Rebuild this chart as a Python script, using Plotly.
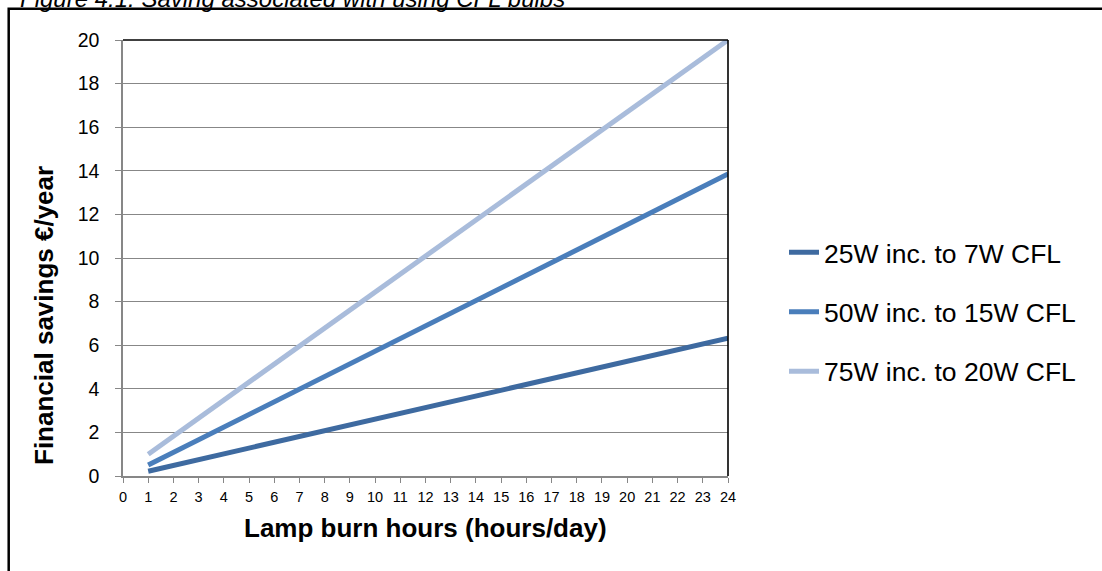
import plotly.graph_objects as go

hours = [1, 24]
series_names = ["25W inc. to 7W CFL", "50W inc. to 15W CFL", "75W inc. to 20W CFL"]
savings_25w = [0.22, 6.32]
savings_50w = [0.5, 13.85]
savings_75w = [1.0, 20.0]
colors = ["#3E6AA0", "#4A7EBB", "#A9BCDB"]
x_ticks = list(range(0, 25))
y_ticks = list(range(0, 21, 2))

W, H = 1102, 571
L, R, T, B = 123, 728, 40, 476  # plot area pixel edges

def px_x(p):
    return (p - L) / (R - L)

def px_y(p):
    return (B - p) / (B - T)

fig = go.Figure()
for i, (name, vals) in enumerate(zip(series_names, [savings_25w, savings_50w, savings_75w])):
    fig.add_trace(go.Scatter(
        x=hours, y=vals, mode="lines", name=name,
        line=dict(color=colors[i], width=5),
        legendgroup=f"g{i}",
    ))

font_family = "Liberation Sans, Arial, sans-serif"

fig.update_layout(
    width=W, height=H,
    margin=dict(l=L, r=W - R, t=T, b=H - B, autoexpand=False),
    paper_bgcolor="white", plot_bgcolor="white",
    font=dict(family=font_family, color="black"),
    showlegend=True,
    legend=dict(
        x=px_x(784), xanchor="left",
        y=px_y(312), yanchor="middle",
        font=dict(size=26.5, family=font_family, color="black"),
        tracegroupgap=22,
        bgcolor="rgba(0,0,0,0)",
    ),
    xaxis=dict(
        range=[0, 24], tickmode="array", tickvals=x_ticks,
        ticks="outside", ticklen=5, tickcolor="#878787", tickwidth=1,
        showgrid=False, zeroline=False,
        showline=True, linecolor="#878787", linewidth=1.5,
        tickfont=dict(size=14.5, family=font_family, color="black"),
        ticklabelstandoff=2,
        fixedrange=True,
    ),
    yaxis=dict(
        range=[0, 20], tickmode="array", tickvals=y_ticks,
        ticks="outside", ticklen=6, tickcolor="#878787", tickwidth=1,
        showgrid=True, gridcolor="#878787", gridwidth=1.3,
        zeroline=False,
        showline=True, linecolor="#878787", linewidth=1.5,
        tickfont=dict(size=19.5, family=font_family, color="black"),
        ticklabelstandoff=12,
        fixedrange=True,
    ),
)

# top and right borders of plot area (black)
fig.add_shape(type="line", xref="paper", yref="paper", x0=0, x1=1, y0=1, y1=1,
              line=dict(color="black", width=1.6), layer="above")
fig.add_shape(type="line", xref="paper", yref="paper", x0=1, x1=1, y0=0, y1=1,
              line=dict(color="black", width=1.6), layer="above")

# outer frame (extends beyond canvas right and bottom)
fig.add_shape(type="rect", xref="paper", yref="paper",
              x0=px_x(8.7), x1=px_x(1200), y0=px_y(8.7), y1=px_y(700),
              line=dict(color="black", width=2.5), fillcolor="rgba(0,0,0,0)")

# axis titles
fig.add_annotation(text="<b>Lamp burn hours (hours/day)</b>", xref="paper", yref="paper",
                   x=px_x(425), y=px_y(528), xanchor="center", yanchor="middle",
                   showarrow=False, font=dict(size=26, family=font_family, color="black"))
fig.add_annotation(text="<b>Financial savings €/year</b>", xref="paper", yref="paper",
                   x=px_x(44), y=px_y(316), xanchor="center", yanchor="middle", textangle=-90,
                   showarrow=False, font=dict(size=26, family=font_family, color="black"))

# figure caption (partly cut off at top, as in the reference)
fig.add_annotation(text="<i>Figure 4.1: Saving associated with using CFL bulbs</i>", xref="paper", yref="paper",
                   x=px_x(18), y=px_y(-2), xanchor="left", yanchor="middle",
                   showarrow=False, font=dict(size=24, family=font_family, color="black"))

fig.write_html("out.html")
